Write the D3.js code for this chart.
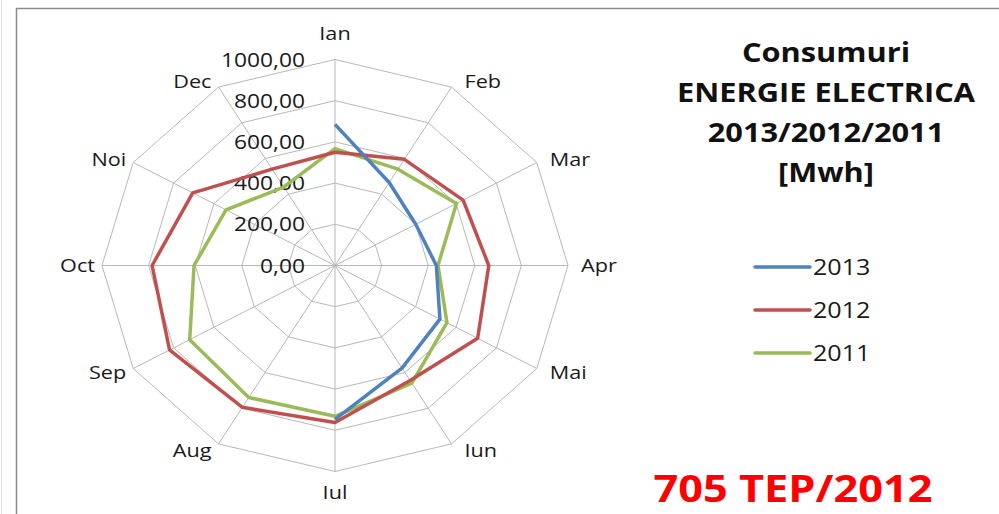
<!DOCTYPE html>
<html>
<head>
<meta charset="utf-8">
<script src="https://cdn.jsdelivr.net/npm/d3@7"></script>
<style>
  html, body { margin: 0; padding: 0; background: #fff; }
  svg { display: block; font-family: 'Open Sans', sans-serif; }
</style>
</head>
<body>
<div id="chart"></div>
<script>
const months = ['Ian', 'Feb', 'Mar', 'Apr', 'Mai', 'Iun', 'Iul', 'Aug', 'Sep', 'Oct', 'Noi', 'Dec']
const ticks = [0, 200, 400, 600, 800, 1000]
const s2013 = [685, 465, 400, 435, 520, 575, 747]
const s2012 = [550, 595, 635, 660, 707, 645, 762, 795, 820, 785, 705, 540]
const s2011 = [567, 540, 602, 442, 555, 660, 732, 740, 720, 605, 540, 440]
const seriesNames = ['2013', '2012', '2011']
const seriesColors = ['#4F81BD', '#C0504D', '#9BBB59']
const titleLines = ['Consumuri', 'ENERGIE ELECTRICA', '2013/2012/2011', '[Mwh]']

const width = 999, height = 514
const cx = 335, cy = 265.5
const RY = 206, sx = 233 / 206 // chart is a bit wider than tall
const stretch = 1.14 // text looks stretched the same way

const svg = d3.select('#chart').append('svg').attr('width', width).attr('height', height)

// frame
svg.append('line').attr('x1', 1.5).attr('x2', 1.5).attr('y1', 0).attr('y2', height)
  .attr('stroke', '#e2e2e2').attr('stroke-width', 1)
svg.append('rect').attr('x', 16.5).attr('y', 8.5).attr('width', 1100).attr('height', 600)
  .attr('fill', 'none').attr('stroke', '#8c8c8c').attr('stroke-width', 1.5)

const r = d3.scaleLinear().domain([0, 1000]).range([0, RY])
const angle = d3.scaleLinear().domain([0, months.length]).range([0, 2 * Math.PI])
const px = (i, v) => cx + r(v) * sx * Math.sin(angle(i))
const py = (i, v) => cy - r(v) * Math.cos(angle(i))

const grid = svg.append('g')
// rings
ticks.slice(1).forEach(t => {
  grid.append('path')
    .attr('d', d3.line().x((d, i) => px(i, t)).y((d, i) => py(i, t)).curve(d3.curveLinearClosed)(months))
    .attr('fill', 'none').attr('stroke', '#b8b8b8').attr('stroke-width', 1)
})
// spokes
grid.selectAll('line.spoke').data(months).enter().append('line')
  .attr('class', 'spoke')
  .attr('x1', cx).attr('y1', cy)
  .attr('x2', (d, i) => px(i, 1000)).attr('y2', (d, i) => py(i, 1000))
  .attr('stroke', '#b8b8b8').attr('stroke-width', 1)

// tick labels
svg.append('g').selectAll('text').data(ticks).enter().append('text')
  .attr('transform', d => `translate(305,${cy - r(d)}) scale(${stretch},1)`)
  .attr('dy', '0.35em')
  .attr('text-anchor', 'end')
  .attr('font-size', 20).attr('fill', '#1a1a1a')
  .text(d => d.toFixed(2).replace('.', ','))

// category labels
const labX = (d, i) => {
  const s = Math.sin(angle(i))
  if (Math.abs(s) < 0.01) return px(i, 1000)
  return px(i, 1000) + (s > 0 ? 13 : -7)
}
const labY = (d, i) => {
  const c = Math.cos(angle(i))
  if (c > 0.99) return py(i, 1000) - 26
  if (c < -0.99) return py(i, 1000) + 21
  return py(i, 1000) - c * 7
}
svg.append('g').selectAll('text').data(months).enter().append('text')
  .attr('transform', (d, i) => `translate(${labX(d, i)},${labY(d, i)}) scale(${stretch},1)`)
  .attr('dy', '0.35em')
  .attr('text-anchor', (d, i) => {
    const s = Math.sin(angle(i))
    return Math.abs(s) < 0.01 ? 'middle' : s > 0 ? 'start' : 'end'
  })
  .attr('font-size', 19).attr('fill', '#1a1a1a')
  .text(d => d)

// series
const allSeries = [s2013, s2012, s2011]
const lineOpen = d3.line().x((d, i) => px(i, d)).y((d, i) => py(i, d))
const lineClosed = d3.line().x((d, i) => px(i, d)).y((d, i) => py(i, d)).curve(d3.curveLinearClosed)
svg.append('g').selectAll('path').data(allSeries.slice().reverse()).enter().append('path')
  .attr('d', d => d.length < months.length ? lineOpen(d) : lineClosed(d))
  .attr('fill', 'none')
  .attr('stroke', (d, i) => seriesColors[allSeries.length - 1 - i])
  .attr('stroke-width', 3.5)
  .attr('stroke-linejoin', 'round')

// title
svg.append('g').selectAll('text').data(titleLines).enter().append('text')
  .attr('transform', (d, i) => `translate(826,${62 + i * 40}) scale(${stretch},1)`)
  .attr('text-anchor', 'middle')
  .attr('font-size', 27).attr('font-weight', 'bold').attr('fill', '#111')
  .text(d => d)

// legend
const legend = svg.append('g').selectAll('g').data(seriesNames).enter().append('g')
  .attr('transform', (d, i) => `translate(755,${267 + i * 43})`)
legend.append('line').attr('x1', 0).attr('x2', 55).attr('y1', 0).attr('y2', 0)
  .attr('stroke', (d, i) => seriesColors[i]).attr('stroke-width', 3.5).attr('stroke-linecap', 'round')
legend.append('text').attr('transform', `translate(58,0) scale(${stretch},1)`).attr('dy', '0.36em')
  .attr('font-size', 22).attr('fill', '#1a1a1a')
  .text(d => d)

svg.append('text').attr('transform', `translate(793,502) scale(${stretch},1)`)
  .attr('text-anchor', 'middle')
  .attr('font-size', 38).attr('font-weight', 'bold').attr('fill', '#ff0000')
  .text('705 TEP/2012')
</script>
</body>
</html>
